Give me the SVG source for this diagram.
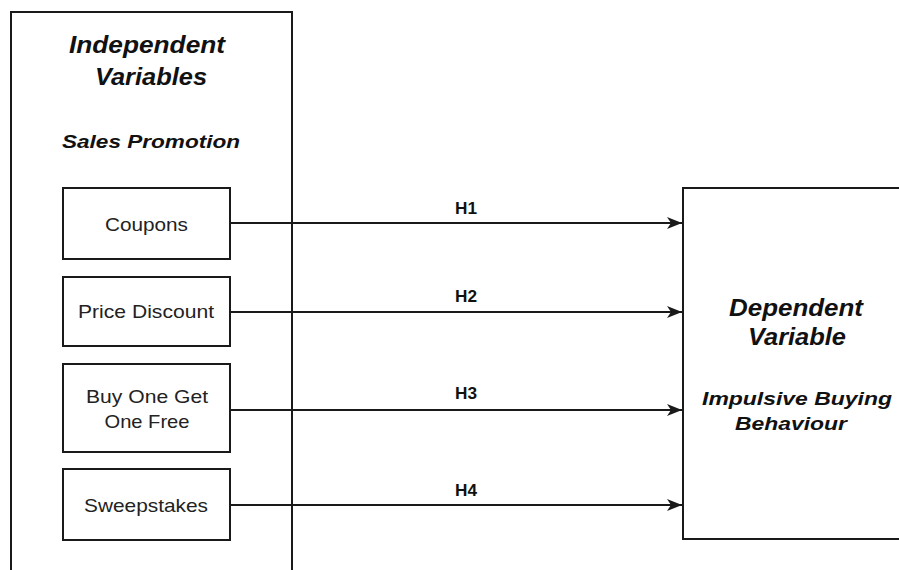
<svg xmlns="http://www.w3.org/2000/svg" width="899" height="570" viewBox="0 0 899 570">
<style>
.box{fill:#fff;stroke:#1a1a1a;stroke-width:2}
.t{font-family:"Liberation Sans",Arial,sans-serif;fill:#111;text-anchor:middle}
.bi{font-weight:bold;font-style:italic}
.n{font-size:18.5px;fill:#222}
.h{font-size:17px;font-weight:bold}
.c{stroke:#1a1a1a;stroke-width:2;fill:none;marker-end:url(#ah)}
</style>
<defs>
<marker id="ah" markerWidth="16" markerHeight="14" refX="15" refY="7" orient="auto" markerUnits="userSpaceOnUse" viewBox="0 0 16 14">
<path d="M0,1 L15,7 L0,13 L4,7 Z" fill="#1a1a1a"/>
</marker>
</defs>
<rect width="899" height="570" fill="#fff"/>
<g id="independent">
<path class="box" d="M11,575 L11,12 L292,12 L292,575"/>
<text class="t bi" x="147" y="53" font-size="24" textLength="156" lengthAdjust="spacingAndGlyphs">Independent</text>
<text class="t bi" x="151" y="85" font-size="24" textLength="112" lengthAdjust="spacingAndGlyphs">Variables</text>
<text class="t bi" x="151" y="148" font-size="19" textLength="178" lengthAdjust="spacingAndGlyphs">Sales Promotion</text>
</g>
<g id="dependent">
<rect class="box" x="683" y="188" width="226" height="351"/>
<text class="t bi" x="796" y="316" font-size="24" textLength="134" lengthAdjust="spacingAndGlyphs">Dependent</text>
<text class="t bi" x="797" y="345" font-size="24" textLength="98" lengthAdjust="spacingAndGlyphs">Variable</text>
<text class="t bi" x="797" y="405" font-size="19" textLength="190" lengthAdjust="spacingAndGlyphs">Impulsive Buying</text>
<text class="t bi" x="791" y="430" font-size="19" textLength="112" lengthAdjust="spacingAndGlyphs">Behaviour</text>
</g>
<g id="coupons">
<rect class="box" x="63" y="188" width="167" height="71"/>
<text class="t n" x="146.5" y="231" textLength="83" lengthAdjust="spacingAndGlyphs">Coupons</text>
</g>
<g id="price">
<rect class="box" x="63" y="277" width="167" height="69"/>
<text class="t n" x="146" y="318" textLength="136" lengthAdjust="spacingAndGlyphs">Price Discount</text>
</g>
<g id="bogo">
<rect class="box" x="63" y="364" width="167" height="88"/>
<text class="t n" x="147" y="403" textLength="122" lengthAdjust="spacingAndGlyphs">Buy One Get</text>
<text class="t n" x="147" y="428" textLength="85" lengthAdjust="spacingAndGlyphs">One Free</text>
</g>
<g id="sweepstakes">
<rect class="box" x="63" y="469" width="167" height="71"/>
<text class="t n" x="146" y="512" textLength="124" lengthAdjust="spacingAndGlyphs">Sweepstakes</text>
</g>
<g id="connectors">
<line class="c" x1="230" y1="223" x2="682" y2="223"/>
<line class="c" x1="230" y1="312" x2="682" y2="312"/>
<line class="c" x1="230" y1="410" x2="682" y2="410"/>
<line class="c" x1="230" y1="505" x2="682" y2="505"/>
<text class="t h" x="466" y="214" textLength="22" lengthAdjust="spacingAndGlyphs">H1</text>
<text class="t h" x="466" y="302" textLength="22" lengthAdjust="spacingAndGlyphs">H2</text>
<text class="t h" x="466" y="399" textLength="22" lengthAdjust="spacingAndGlyphs">H3</text>
<text class="t h" x="466" y="496" textLength="22" lengthAdjust="spacingAndGlyphs">H4</text>
</g>
</svg>
